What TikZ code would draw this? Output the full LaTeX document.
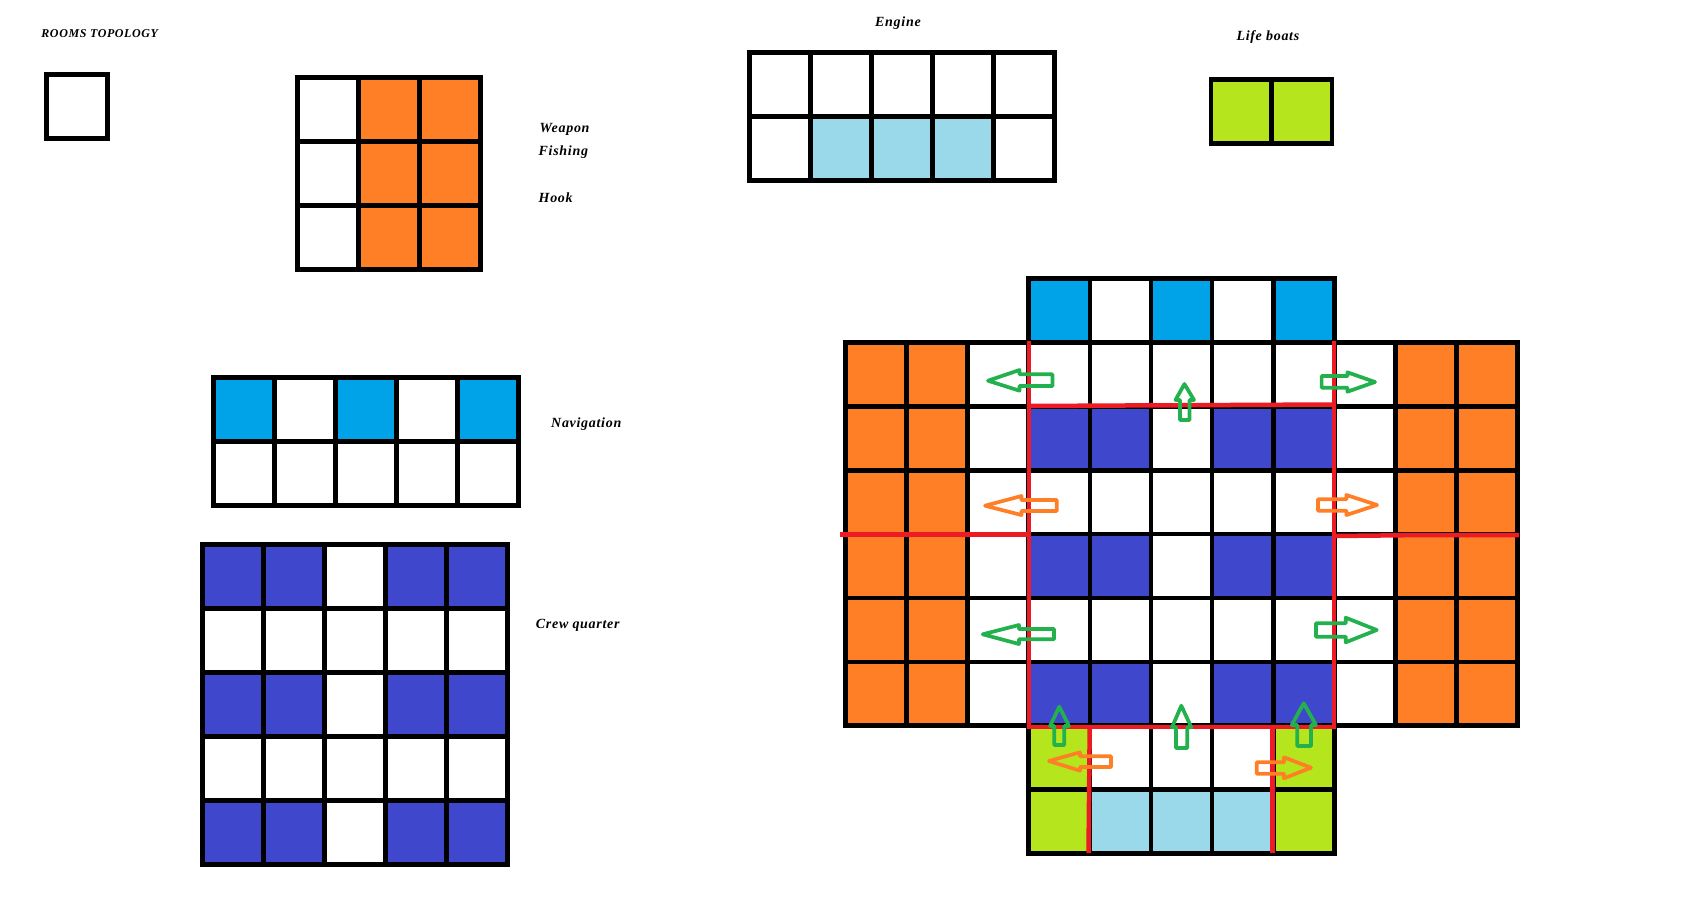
\documentclass[tikz,border=0pt]{standalone}
\usepackage{fontspec}
\setmainfont{Liberation Serif}[LetterSpace=5]
\definecolor{roomorange}{HTML}{FF7F27}
\definecolor{roomblue}{HTML}{00A2E8}
\definecolor{roomcrew}{HTML}{3F48CC}
\definecolor{roomlime}{HTML}{B5E61D}
\definecolor{roomsky}{HTML}{99D9EA}
\definecolor{roomred}{HTML}{ED1C24}
\definecolor{roomgreen}{HTML}{22B14C}
\tikzset{
  roomline/.style={black, line width=4.7pt, line cap=rect},
  redline/.style={roomred, line width=4.5pt},
  greenarrow/.style={draw=roomgreen, line width=3.7pt, line join=round},
  orangearrow/.style={draw=roomorange, line width=3.7pt, line join=round},
  roomlabel/.style={anchor=base west, inner sep=0pt, font=\fontsize{14}{16}\selectfont\bfseries\itshape},
  cellgrid/.style={x=61pt, y=-64pt}
}
\newcommand{\roomgrid}[4]{
    \foreach \gx in {#1,...,#3} \draw[roomline] (\gx,#2) -- (\gx,#4);
    \foreach \gy in {#2,...,#4} \draw[roomline] (#1,\gy) -- (#3,\gy);
}
\begin{document}
\begin{tikzpicture}[x=1pt, y=-1pt]
    \useasboundingbox (0,0) rectangle (1699,910);
    \node[roomlabel, font=\fontsize{12}{14}\selectfont\bfseries\itshape] (topology) at (41.2,37.3) {ROOMS TOPOLOGY};
    \node[roomlabel] (weapon) at (539.4,132) {Weapon};
    \node[roomlabel] (fishing) at (538.5,155) {Fishing};
    \node[roomlabel] (hook) at (538.5,202) {Hook};
    \node[roomlabel] (engine) at (875,26.7) {Engine};
    \node[roomlabel] (lifeboats) at (1236.3,40.7) {Life boats};
    \node[roomlabel] (navigation) at (551,427) {Navigation};
    \node[roomlabel] (crew) at (535.7,628.3) {Crew quarter};
    % single room
    \begin{scope}[shift={(46.8,74.3)}, cellgrid]
        \roomgrid{0}{0}{1}{1}
    \end{scope}
    % weapon
    \begin{scope}[shift={(297.8,77.3)}, x=60.9pt, y=-64pt]
        \fill[roomorange] (1,0) rectangle (3,3);
        \roomgrid{0}{0}{3}{3}
    \end{scope}
    % engine
    \begin{scope}[shift={(749.4,52.3)}, cellgrid]
        \fill[roomsky] (1,1) rectangle (4,2);
        \roomgrid{0}{0}{5}{2}
    \end{scope}
    % life boats
    \begin{scope}[shift={(1211,79.3)}, x=60.5pt, y=-64pt]
        \fill[roomlime] (0,0) rectangle (2,1);
        \roomgrid{0}{0}{2}{1}
    \end{scope}
    % navigation
    \begin{scope}[shift={(213.3,377.3)}, cellgrid]
        \foreach \c in {0,2,4} \fill[roomblue] (\c,0) rectangle ++(1,1);
        \roomgrid{0}{0}{5}{2}
    \end{scope}
    % crew quarter
    \begin{scope}[shift={(202.3,544.3)}, cellgrid]
        \foreach \r in {0,2,4} {
            \fill[roomcrew] (0,\r) rectangle ++(2,1);
            \fill[roomcrew] (3,\r) rectangle ++(2,1);
        }
        \roomgrid{0}{0}{5}{5}
    \end{scope}
    % ship
    \begin{scope}[shift={(845.5,278.5)}, x=61.1pt, y=-63.9pt]
        \fill[roomorange] (0,1) rectangle (2,7);
        \fill[roomorange] (9,1) rectangle (11,7);
        \foreach \c in {3,5,7} \fill[roomblue] (\c,0) rectangle ++(1,1);
        \foreach \r in {2,4,6} {
            \fill[roomcrew] (3,\r) rectangle ++(2,1);
            \fill[roomcrew] (6,\r) rectangle ++(2,1);
        }
        \fill[roomlime] (3,7) rectangle (4,9);
        \fill[roomlime] (7,7) rectangle (8,9);
        \fill[roomsky] (4,8) rectangle (7,9);
        \roomgrid{0}{1}{11}{7}
        \roomgrid{3}{0}{8}{1}
        \roomgrid{3}{7}{8}{9}
    \end{scope}
    % sections
    \draw[redline] (1029,341) -- (1029,727);
    \draw[redline] (1334,341) -- (1334,727);
    \draw[redline] (1029,406) -- (1124,405.5) -- (1334,404.5);
    \draw[redline] (840,534.5) -- (1029,534.5);
    \draw[redline] (1334,536) -- (1426,535) -- (1519,535);
    \draw[redline] (1027,727) -- (1336,727);
    \draw[redline] (1089.7,727) -- (1088.5,853);
    \draw[redline] (1272.3,727) -- (1272.3,853);
    % exits
    \draw[greenarrow] (988,380.7) -- (1019.5,370) -- (1019.5,374.3) -- (1052.4,374.3) -- (1052.4,386) -- (1019.5,386) -- (1019.5,390.7) -- cycle;
    \draw[greenarrow] (1375,382) -- (1347.4,372.3) -- (1347.4,376) -- (1321.6,376) -- (1321.6,387.7) -- (1347.4,387.7) -- (1347.4,391.7) -- cycle;
    \draw[greenarrow] (1184.4,384) -- (1175.5,400) -- (1180,400) -- (1180,420) -- (1189.5,420) -- (1189.5,400) -- (1194,400) -- cycle;
    \draw[orangearrow] (985,505.7) -- (1021.5,496) -- (1021.5,500) -- (1056.7,500) -- (1056.7,511) -- (1021.5,511) -- (1021.5,515) -- cycle;
    \draw[orangearrow] (1377,505) -- (1346.4,495) -- (1346.4,499.3) -- (1318,499.3) -- (1318,510.7) -- (1346.4,510.7) -- (1346.4,515) -- cycle;
    \draw[greenarrow] (982.7,634.3) -- (1019,625) -- (1019,629) -- (1054,629) -- (1054,639.3) -- (1019,639.3) -- (1019,644) -- cycle;
    \draw[greenarrow] (1376.7,630) -- (1345.7,617.7) -- (1345.7,623.3) -- (1316,623.3) -- (1316,636.7) -- (1345.7,636.7) -- (1345.7,642.3) -- cycle;
    \draw[greenarrow] (1059.3,706.7) -- (1050,726) -- (1054.3,726) -- (1054.3,745) -- (1064.3,745) -- (1064.3,726) -- (1069,726) -- cycle;
    \draw[greenarrow] (1181.3,705.7) -- (1172,727.3) -- (1176,727.3) -- (1176,748) -- (1187.3,748) -- (1187.3,727.3) -- (1191.3,727.3) -- cycle;
    \draw[greenarrow] (1303.7,703.3) -- (1291.7,725) -- (1297.3,725) -- (1297.3,746) -- (1311,746) -- (1311,725) -- (1316,725) -- cycle;
    \draw[orangearrow] (1049,761) -- (1080,752.3) -- (1080,756.3) -- (1111,756.3) -- (1111,767) -- (1080,767) -- (1080,770.7) -- cycle;
    \draw[orangearrow] (1311,767.7) -- (1284,757.3) -- (1284,762.3) -- (1256.7,762.3) -- (1256.7,773.7) -- (1284,773.7) -- (1284,778.3) -- cycle;
\end{tikzpicture}
\end{document}
